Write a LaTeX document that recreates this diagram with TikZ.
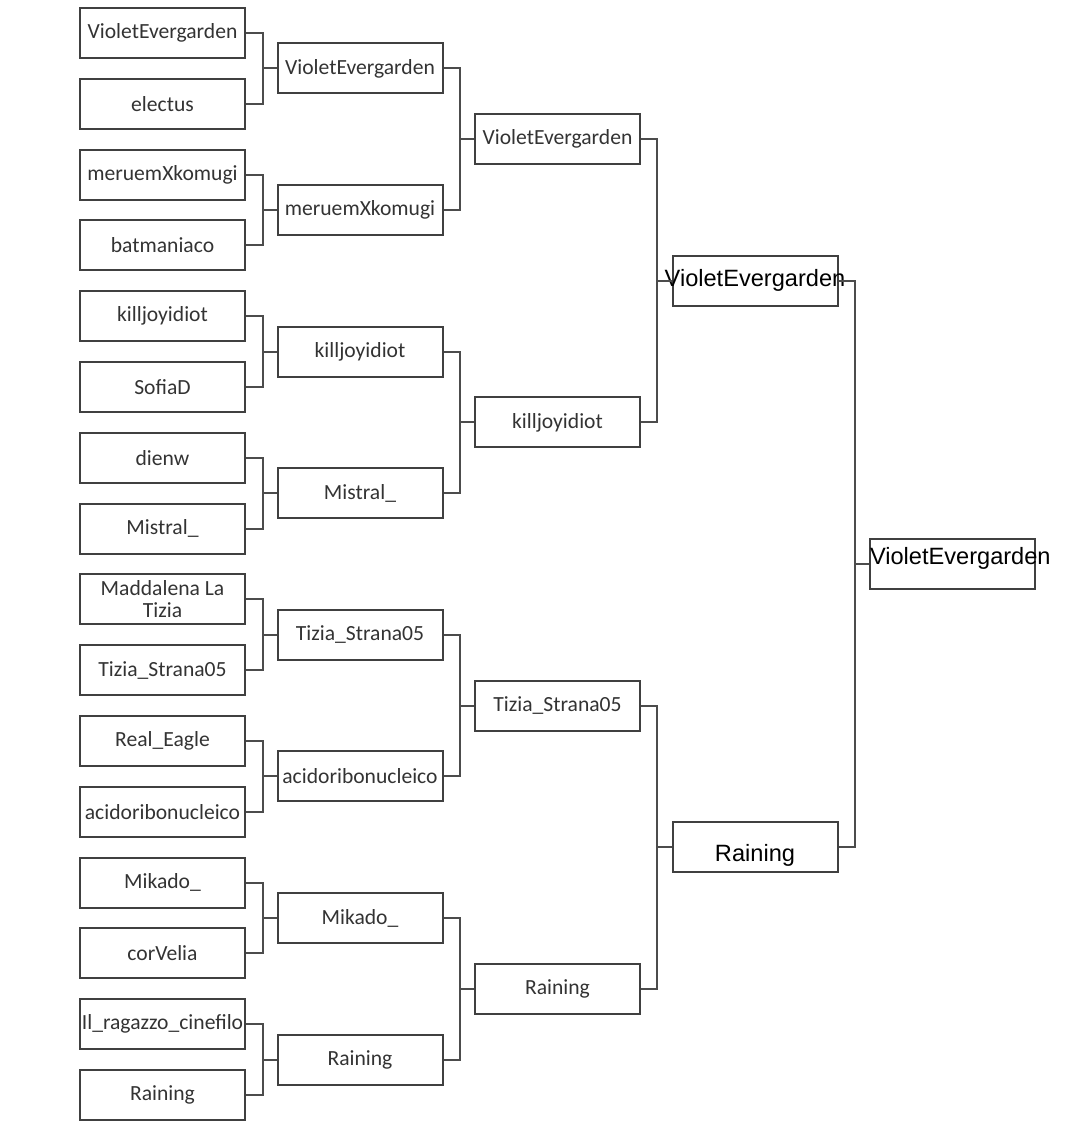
\documentclass[tikz,border=0pt]{standalone}
\usepackage{fontspec}
\setmainfont{Carlito}
\newfontfamily\bigfont{Liberation Sans}
\usetikzlibrary{positioning, calc}

% centred text that may run past the box edges
\newcommand{\fit}[1]{\makebox[\linewidth]{#1}}

\begin{document}
\begin{tikzpicture}[
  x=0.5pt, y=-0.5pt,
  node distance=9.4pt,
  entry/.style={rectangle, draw=black!75, line width=1pt, text width=82.5pt, align=flush center, minimum height=25pt, inner sep=0pt, text=black!80, font=\fontsize{10.8}{12}\selectfont},
  top/.style={entry, text=black, font=\bigfont\fontsize{11.8}{13}\selectfont},
  link/.style={draw=black!70, line width=1pt}
]
\useasboundingbox (0,0) rectangle (1080,1130);

% round 1
\node[entry] (a1) at (162.5,33) {VioletEvergarden};
\node[entry, below=of a1] (a2) {electus};
\node[entry, below=of a2] (a3) {meruemXkomugi};
\node[entry, below=of a3] (a4) {batmaniaco};
\node[entry, below=of a4] (a5) {killjoyidiot};
\node[entry, below=of a5] (a6) {SofiaD};
\node[entry, below=of a6] (a7) {dienw};
\node[entry, below=of a7] (a8) {Mistral\_};
\node[entry, below=of a8] (a9) {Maddalena La\\[-1pt]Tizia};
\node[entry, below=of a9] (a10) {Tizia\_Strana05};
\node[entry, below=of a10] (a11) {Real\_Eagle};
\node[entry, below=of a11] (a12) {\fit{acidoribonucleico}};
\node[entry, below=of a12] (a13) {Mikado\_};
\node[entry, below=of a13] (a14) {corVelia};
\node[entry, below=of a14] (a15) {\fit{Il\_ragazzo\_cinefilo}};
\node[entry, below=of a15] (a16) {Raining};

% round 2
\node[entry] (b1) at ($(a1)!.5!(a2) + (197.5,0)$) {VioletEvergarden};
\node[entry] (b2) at ($(a3)!.5!(a4) + (197.5,0)$) {meruemXkomugi};
\node[entry] (b3) at ($(a5)!.5!(a6) + (197.5,0)$) {killjoyidiot};
\node[entry] (b4) at ($(a7)!.5!(a8) + (197.5,0)$) {Mistral\_};
\node[entry] (b5) at ($(a9)!.5!(a10) + (197.5,0)$) {Tizia\_Strana05};
\node[entry] (b6) at ($(a11)!.5!(a12) + (197.5,0)$) {\fit{acidoribonucleico}};
\node[entry] (b7) at ($(a13)!.5!(a14) + (197.5,0)$) {Mikado\_};
\node[entry] (b8) at ($(a15)!.5!(a16) + (197.5,0)$) {Raining};

% round 3
\node[entry] (c1) at ($(b1)!.5!(b2) + (197.5,0)$) {VioletEvergarden};
\node[entry] (c2) at ($(b3)!.5!(b4) + (197.5,0)$) {killjoyidiot};
\node[entry] (c3) at ($(b5)!.5!(b6) + (197.5,0)$) {Tizia\_Strana05};
\node[entry] (c4) at ($(b7)!.5!(b8) + (197.5,0)$) {Raining};

% round 4 and winner
\node[top] (d1) at ($(c1)!.5!(c2) + (197.5,0)$) {\fit{VioletEvergarden}};
\node[top] (d2) at ($(c3)!.5!(c4) + (197.5,0)$) {\raisebox{-4pt}[\height][\depth]{Raining}};
\node[top] (win) at ($(d1)!.5!(d2) + (197.5,0)$) {\raisebox{3pt}[\height][\depth]{VioletEvergarden}};

% brackets
\draw[link] (a1.east) -- ++(16.5,0) |- (b1.west);
\draw[link] (a2.east) -- ++(16.5,0) |- (b1.west);
\draw[link] (a3.east) -- ++(16.5,0) |- (b2.west);
\draw[link] (a4.east) -- ++(16.5,0) |- (b2.west);
\draw[link] (a5.east) -- ++(16.5,0) |- (b3.west);
\draw[link] (a6.east) -- ++(16.5,0) |- (b3.west);
\draw[link] (a7.east) -- ++(16.5,0) |- (b4.west);
\draw[link] (a8.east) -- ++(16.5,0) |- (b4.west);
\draw[link] (a9.east) -- ++(16.5,0) |- (b5.west);
\draw[link] (a10.east) -- ++(16.5,0) |- (b5.west);
\draw[link] (a11.east) -- ++(16.5,0) |- (b6.west);
\draw[link] (a12.east) -- ++(16.5,0) |- (b6.west);
\draw[link] (a13.east) -- ++(16.5,0) |- (b7.west);
\draw[link] (a14.east) -- ++(16.5,0) |- (b7.west);
\draw[link] (a15.east) -- ++(16.5,0) |- (b8.west);
\draw[link] (a16.east) -- ++(16.5,0) |- (b8.west);
\draw[link] (b1.east) -- ++(16,0) |- (c1.west);
\draw[link] (b2.east) -- ++(16,0) |- (c1.west);
\draw[link] (b3.east) -- ++(16,0) |- (c2.west);
\draw[link] (b4.east) -- ++(16,0) |- (c2.west);
\draw[link] (b5.east) -- ++(16,0) |- (c3.west);
\draw[link] (b6.east) -- ++(16,0) |- (c3.west);
\draw[link] (b7.east) -- ++(16,0) |- (c4.west);
\draw[link] (b8.east) -- ++(16,0) |- (c4.west);
\draw[link] (c1.east) -- ++(16,0) |- (d1.west);
\draw[link] (c2.east) -- ++(16,0) |- (d1.west);
\draw[link] (c3.east) -- ++(16,0) |- (d2.west);
\draw[link] (c4.east) -- ++(16,0) |- (d2.west);
\draw[link] (d1.east) -- ++(16,0) |- (win.west);
\draw[link] (d2.east) -- ++(16,0) |- (win.west);
\end{tikzpicture}
\end{document}
